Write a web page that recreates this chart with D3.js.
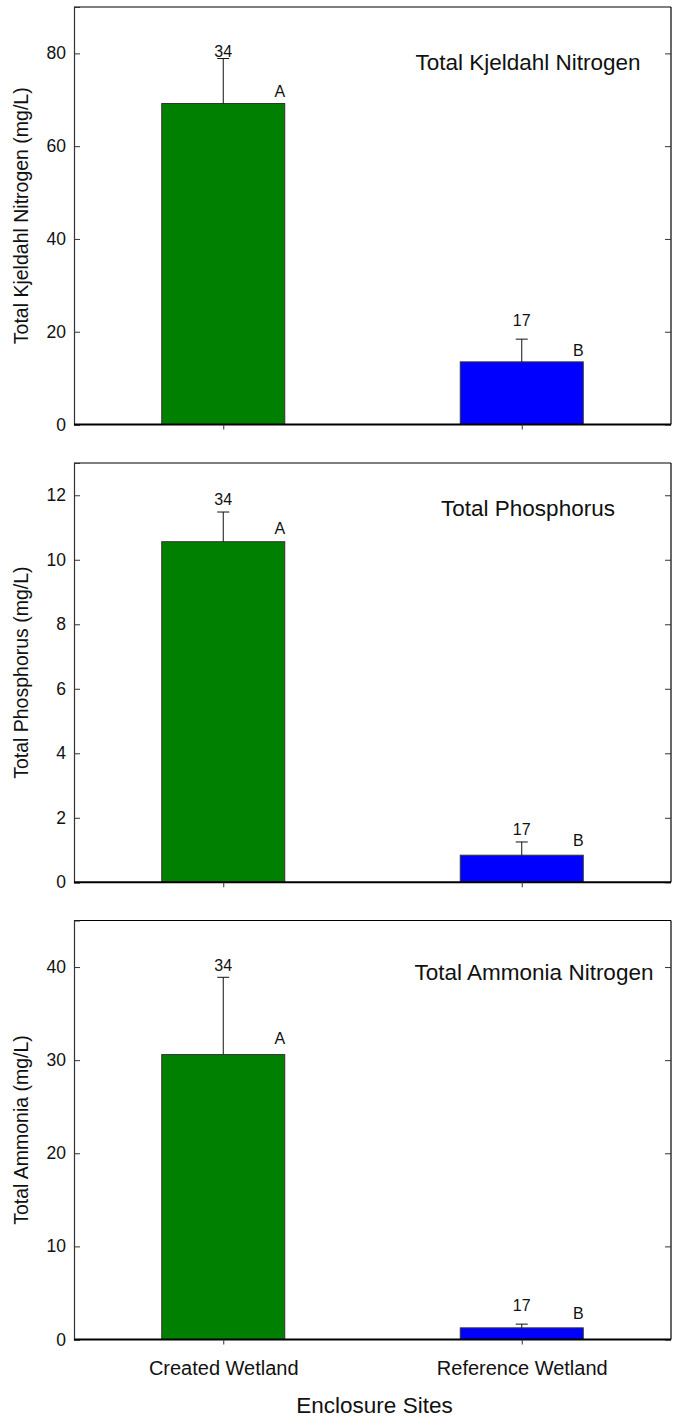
<!DOCTYPE html>
<html>
<head>
<meta charset="utf-8">
<script src="https://cdn.jsdelivr.net/npm/d3@7"></script>
<style>
  html, body { margin: 0; padding: 0; background: #fff; }
  svg { display: block; font-family: "Liberation Sans", Arial, sans-serif; }
</style>
</head>
<body>
<svg id="chart" width="676" height="1419"></svg>
<script>
// Enclosure sites compared in every panel
const sites = ["Created Wetland", "Reference Wetland"];
const sampleN = [34, 17];
const groupLetters = ["A", "B"];

// Total Kjeldahl Nitrogen (mg/L): mean and upper error
const tknMean = [69.2, 13.5];
const tknErr = [9.7, 4.9];
const tknTicks = [0, 20, 40, 60, 80];

// Total Phosphorus (mg/L)
const tpMean = [10.56, 0.84];
const tpErr = [0.92, 0.41];
const tpTicks = [0, 2, 4, 6, 8, 10, 12];

// Total Ammonia (mg/L)
const tanMean = [30.6, 1.25];
const tanErr = [8.3, 0.4];
const tanTicks = [0, 10, 20, 30, 40];

const barColors = ["#008000", "#0000ff"];

const panels = [
  { title: "Total Kjeldahl Nitrogen", yLabel: "Total Kjeldahl Nitrogen (mg/L)",
    mean: tknMean, err: tknErr, ticks: tknTicks, yMax: 90,
    top: 7, bottom: 424.5, titleX: 528, titleY: 70,
    nGap: [1.5, 13], letterGap: [6.3, 5.7] },
  { title: "Total Phosphorus", yLabel: "Total Phosphorus (mg/L)",
    mean: tpMean, err: tpErr, ticks: tpTicks, yMax: 13,
    top: 463, bottom: 882.3, titleX: 528, titleY: 516,
    nGap: [7, 7], letterGap: [7.3, 9] },
  { title: "Total Ammonia Nitrogen", yLabel: "Total Ammonia (mg/L)",
    mean: tanMean, err: tanErr, ticks: tanTicks, yMax: 45,
    top: 920.5, bottom: 1339.5, titleX: 534, titleY: 980,
    nGap: [6.3, 13], letterGap: [11, 8.7] }
];

const svg = d3.select("#chart");
const left = 74, right = 671;
const barWidth = 123;

const x = d3.scalePoint().domain(sites).range([left, right]).padding(0.5);

panels.forEach((p, pi) => {
  const y = d3.scaleLinear().domain([0, p.yMax]).range([p.bottom, p.top]);
  const g = svg.append("g");

  // frame: top and right thin, left and bottom axis lines
  g.append("line").attr("x1", left).attr("x2", right).attr("y1", p.top).attr("y2", p.top)
    .attr("stroke", "#000").attr("stroke-width", 1.2);
  g.append("line").attr("x1", right).attr("x2", right).attr("y1", p.top).attr("y2", p.bottom)
    .attr("stroke", "#000").attr("stroke-width", 1.2);

  // left axis, ticks pointing inward
  const yAxis = g.append("g").attr("transform", `translate(${left},0)`)
    .call(d3.axisLeft(y).tickValues(p.ticks).tickSize(-6).tickPadding(8).tickFormat(d3.format("d")));
  yAxis.select(".domain").attr("stroke", "#333").attr("stroke-width", 1.2);
  yAxis.selectAll(".tick line").attr("stroke", "#333");
  yAxis.selectAll(".tick text").attr("font-size", 17.5).attr("fill", "#111")
    .attr("font-family", "Liberation Sans, Arial, sans-serif");

  // right axis, ticks pointing inward, no labels
  const yAxisR = g.append("g").attr("transform", `translate(${right},0)`)
    .call(d3.axisRight(y).tickValues(p.ticks).tickSize(-6).tickFormat(""));
  yAxisR.select(".domain").remove();
  yAxisR.selectAll(".tick line").attr("stroke", "#333");

  // bars
  g.selectAll("rect.bar").data(sites).enter().append("rect")
    .attr("class", "bar")
    .attr("x", d => x(d) - barWidth / 2)
    .attr("width", barWidth)
    .attr("y", (d, i) => y(p.mean[i]))
    .attr("height", (d, i) => y(0) - y(p.mean[i]))
    .attr("fill", (d, i) => barColors[i])
    .attr("stroke", "#333").attr("stroke-width", 1);

  // upper error bars
  sites.forEach((s, i) => {
    const cx = x(s);
    const yTop = y(p.mean[i] + p.err[i]);
    g.append("line").attr("x1", cx).attr("x2", cx)
      .attr("y1", y(p.mean[i])).attr("y2", yTop)
      .attr("stroke", "#111").attr("stroke-width", 1);
    g.append("line").attr("x1", cx - 6).attr("x2", cx + 6)
      .attr("y1", yTop).attr("y2", yTop)
      .attr("stroke", "#111").attr("stroke-width", 1);
    // sample size
    g.append("text").attr("x", cx).attr("y", yTop - p.nGap[i])
      .attr("text-anchor", "middle").attr("font-size", 16).attr("fill", "#111")
      .text(sampleN[i]);
    // significance group letter
    g.append("text").attr("x", cx + barWidth / 2 - 5).attr("y", y(p.mean[i]) - p.letterGap[i])
      .attr("text-anchor", "middle").attr("font-size", 16).attr("fill", "#111")
      .text(groupLetters[i]);
  });

  // bottom axis with outward ticks at each site
  const xAxis = g.append("g").attr("transform", `translate(0,${p.bottom})`)
    .call(d3.axisBottom(x).tickSize(5).tickPadding(16)
      .tickFormat(pi === panels.length - 1 ? (d => d) : () => ""));
  xAxis.select(".domain").attr("d", `M${left},0H${right}`)
    .attr("stroke", "#000").attr("stroke-width", 2);
  xAxis.selectAll(".tick line").attr("stroke", "#333");
  xAxis.selectAll(".tick text").attr("font-size", 20).attr("fill", "#111")
    .attr("font-family", "Liberation Sans, Arial, sans-serif");

  // panel title
  g.append("text").attr("x", p.titleX).attr("y", p.titleY)
    .attr("text-anchor", "middle").attr("font-size", 22.5).attr("fill", "#111")
    .text(p.title);

  // y axis title
  g.append("text")
    .attr("transform", `translate(28,${(p.top + p.bottom) / 2}) rotate(-90)`)
    .attr("text-anchor", "middle").attr("font-size", 19.5).attr("fill", "#111")
    .text(p.yLabel);
});

// shared x axis title
svg.append("text").attr("x", (left + right) / 2 + 2).attr("y", 1413)
  .attr("text-anchor", "middle").attr("font-size", 22.5).attr("fill", "#111")
  .text("Enclosure Sites");
</script>
</body>
</html>
